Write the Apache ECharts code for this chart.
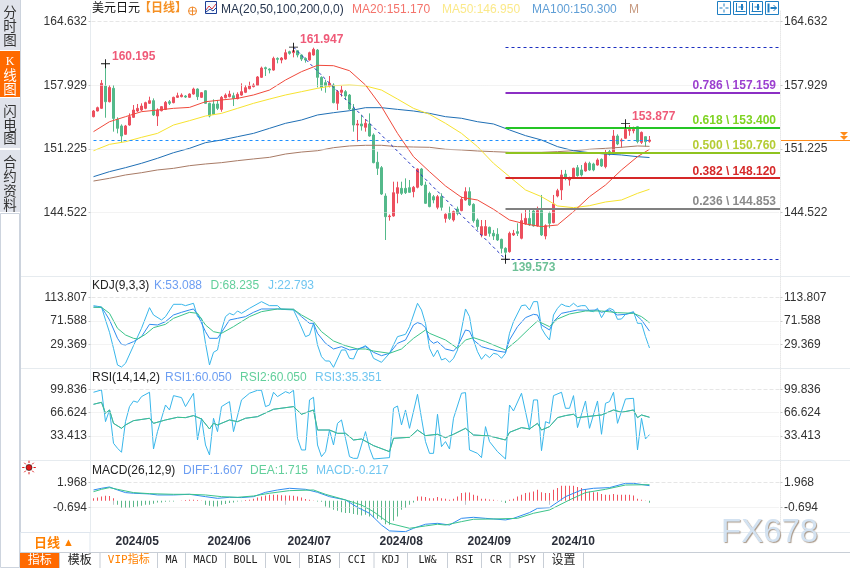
<!DOCTYPE html>
<html>
<head>
<meta charset="utf-8">
<style>
  html, body { margin: 0; padding: 0; background: #fff; }
  #main { width: 850px; height: 568px; }
</style>
<script src="https://cdn.jsdelivr.net/npm/echarts@6/dist/echarts.min.js"></script>
</head>
<body>
<div id="main"></div>
<script>
const opens = [
  154.61,155.21,155.49,157.85,156.19,157.60,154.33,153.63,152.75,153.73,
  154.54,155.21,155.31,155.49,156.02,156.30,154.68,155.24,155.38,156.19,
  156.09,156.65,156.72,156.79,156.65,157.00,157.53,156.65,157.35,156.02,
  155.95,155.95,155.38,156.61,156.72,156.82,156.51,156.89,157.18,157.56,
  157.78,157.91,158.76,159.78,159.64,159.53,160.76,160.59,160.69,161.47,
  161.36,161.57,161.12,160.76,160.59,161.12,161.64,158.76,158.20,157.85,
  157.95,156.02,157.18,157.25,156.89,155.49,153.73,153.84,153.49,153.84,
  152.68,149.80,149.23,146.24,144.06,144.13,146.52,147.05,147.05,147.12,
  146.70,147.16,149.09,147.40,146.52,146.17,145.05,146.17,143.88,144.41,
  143.71,144.87,144.70,145.82,146.70,145.36,143.71,142.13,142.09,142.94,
  142.30,142.20,141.67,140.72,140.37,142.13,142.48,141.78,143.29,143.88,
  144.66,143.08,144.70,142.02,144.41,143.43,146.24,146.88,148.56,147.93,
  148.10,149.23,148.99,148.88,149.69,149.62,149.51,150.11,149.34,150.92,
  150.85,152.57,152.04,152.33,153.13,153.13,153.56,151.90,152.50,152.01
]
const closes = [
  155.21,155.56,158.13,156.19,157.70,154.43,153.38,152.57,153.63,154.61,
  155.31,155.49,155.73,156.09,156.30,154.79,155.31,155.67,156.12,156.02,
  156.65,156.82,156.89,156.68,157.00,157.53,156.72,157.14,156.02,154.68,
  154.86,155.49,156.65,156.89,157.00,156.54,156.97,157.25,157.67,157.85,
  157.95,158.80,159.74,159.67,159.53,160.76,160.66,160.80,161.36,161.29,
  161.57,161.12,160.69,160.59,161.36,161.71,158.76,157.70,157.85,158.13,
  156.09,157.25,157.42,156.79,155.42,153.73,153.84,153.63,153.91,152.57,
  149.76,149.16,146.45,144.06,144.13,146.59,147.12,146.52,146.59,146.63,
  147.16,149.09,147.40,145.47,145.12,145.82,146.17,145.05,144.31,143.88,
  144.59,144.41,145.89,146.70,145.30,143.64,143.01,143.01,143.01,142.30,
  142.02,141.60,140.72,140.30,142.30,142.30,142.30,143.64,143.88,143.18,
  143.08,144.70,142.13,143.11,143.36,145.40,146.80,148.46,148.10,148.10,
  149.16,148.39,148.46,149.69,148.99,148.99,150.04,149.41,150.81,150.64,
  152.57,151.73,152.15,153.27,153.27,153.27,151.98,152.95,151.98,152.15
]
const lows = [
  154.54,155.17,155.45,154.50,156.12,153.03,152.85,151.87,152.70,153.66,
  154.47,155.10,155.20,155.40,155.95,154.68,153.63,155.17,155.31,155.84,
  156.02,156.58,156.65,156.58,156.58,156.93,156.37,156.58,155.95,154.54,
  154.79,155.31,155.13,156.54,156.65,155.74,156.44,156.82,157.10,157.50,
  157.70,157.85,158.70,158.90,159.18,159.46,160.24,160.24,160.62,161.15,
  160.87,160.87,160.48,160.31,160.52,161.05,157.70,157.35,157.14,157.70,
  156.02,155.31,156.72,156.37,155.31,153.03,151.98,153.14,153.03,152.50,
  149.69,148.46,146.35,141.60,143.64,144.06,145.47,146.35,146.45,146.59,
  146.10,147.05,147.30,145.40,145.05,145.47,144.84,144.70,143.43,143.71,
  143.54,144.20,144.63,145.75,145.19,143.43,142.66,141.88,142.02,141.95,
  141.60,141.50,140.19,139.573,140.26,142.02,142.02,141.67,143.22,143.08,
  143.01,143.01,142.02,141.67,142.84,143.36,146.10,145.82,147.90,147.33,
  148.03,148.28,148.30,148.81,148.90,148.85,149.44,149.30,149.16,150.50,
  150.78,151.60,151.34,152.26,152.60,152.85,151.80,151.73,151.45,151.87
]
const highs = [
  155.31,155.67,158.48,160.195,157.95,157.95,154.54,153.80,153.74,154.96,
  155.84,155.95,156.02,156.19,156.72,156.54,155.49,155.73,156.26,156.37,
  156.72,157.14,157.07,156.89,157.07,157.67,157.60,157.21,157.42,156.09,
  156.44,156.37,156.79,157.07,157.35,157.14,157.18,158.13,157.95,158.30,
  158.13,158.90,159.89,159.89,159.71,160.94,160.87,160.90,161.71,161.57,
  161.947,161.64,161.19,160.87,161.47,161.89,161.75,158.87,158.48,158.90,
  158.13,157.42,157.85,157.42,157.00,155.95,154.26,154.79,154.36,154.96,
  152.85,150.91,149.40,146.52,144.30,147.75,147.75,147.75,148.10,147.93,
  147.30,149.16,149.20,147.75,146.70,146.35,146.35,146.52,144.41,145.12,
  144.70,145.12,146.17,147.16,147.16,145.47,143.88,143.71,143.71,143.01,
  142.66,142.84,141.74,140.83,142.48,142.66,143.36,144.41,144.77,144.87,
  144.84,145.12,146.35,143.25,144.59,146.35,147.00,148.99,148.99,148.28,
  149.23,149.51,149.51,149.86,149.86,149.75,150.21,150.21,151.10,151.10,
  153.21,152.75,152.33,153.877,153.73,153.56,153.63,153.05,152.50,152.57
]

// moving averages were read every 4th candle
const maIdx = [0,4,8,12,16,20,24,28,32,36,40,44,48,52,56,60,64,68,72,76,80,84,88,92,96,100,104,108,112,116,120,124,128,132,136,139]
const ma20 = [153.03,154.08,154.61,155.14,155.31,155.49,155.59,156.19,156.37,156.54,156.90,157.42,158.48,159.36,160.03,159.99,159.46,157.95,155.67,152.85,150.39,148.81,147.30,146.10,145.82,144.84,143.71,143.29,143.01,143.18,144.59,146.17,147.40,148.99,150.39,151.17]
const ma50 = [151.02,151.69,151.97,152.43,152.85,153.73,154.19,154.68,154.96,155.49,156.02,156.47,156.90,157.25,157.60,157.88,157.95,157.85,157.42,156.47,155.49,154.86,153.91,152.85,151.45,149.69,148.28,146.88,146.17,145.19,145.01,145.22,145.61,145.82,146.52,146.95]
const ma100 = [148.28,148.81,149.23,149.69,150.22,150.81,151.27,151.87,152.15,152.50,152.85,153.38,153.91,154.26,154.79,155.03,155.24,155.56,155.56,155.38,155.21,154.96,154.61,154.44,154.08,153.84,153.21,152.61,152.15,151.45,151.02,150.81,150.67,150.57,150.39,150.30]
const ma200 = [147.82,148.11,148.46,148.70,148.99,149.16,149.44,149.62,149.76,149.97,150.15,150.32,150.67,150.88,151.02,151.34,151.52,151.59,151.59,151.45,151.41,151.38,151.17,151.10,150.99,150.92,150.85,150.85,150.85,150.92,151.02,151.17,151.27,151.38,151.52,151.48]

const kIdx = [0,2,3,4,6,7,8,10,12,14,16,18,20,22,24,25,26,28,29,31,32,34,36,38,40,42,46,50,52,54,55,56,58,60,62,64,66,68,70,72,74,76,78,80,81,82,83,84,85,86,88,90,91,93,94,95,97,99,101,103,104,106,108,110,111,112,114,115,117,119,121,124,126,127,129,131,133,135,137,139]
const kVals = [96.44,95.84,85.05,73.07,40.13,29.35,28.15,34.14,43.12,65.29,64.09,70.08,82.06,86.85,91.05,92.84,83.26,52.11,40.13,40.13,50.91,73.07,76.07,79.07,86.85,92.84,92.84,92.24,79.07,67.08,67.08,49.12,31.15,20.96,25.16,19.17,20.96,25.16,14.97,8.98,13.17,31.15,37.14,64.09,68.28,65.89,59.30,37.14,31.15,34.14,20.96,17.37,25.16,55.1,53.3,37.14,25.16,20.96,17.37,14.97,37.14,61.1,77.27,83.26,82.06,64.09,55.1,70.08,85.05,88.05,91.05,90.45,91.05,86.85,91.05,82.06,83.26,86.25,73.07,53.088]
const dIdx = [0,2,4,6,8,10,11,13,15,18,20,24,26,28,30,32,35,39,42,46,50,52,55,57,60,63,66,68,70,74,77,80,83,84,88,91,93,95,98,103,106,109,111,114,116,119,123,127,131,135,137,139]
const dVals = [95.84,95.84,85.05,58.1,46.12,40.13,38.93,47.32,59.3,65.29,76.07,86.85,85.05,64.09,52.11,49.12,61.1,79.07,88.05,92.84,92.24,82.06,70.08,52.11,35.34,26.95,20.96,20.96,17.37,13.17,20.96,40.13,55.1,49.12,37.14,22.16,37.14,41.33,34.14,19.17,37.14,58.1,71.28,61.1,74.87,83.86,89.25,89.25,86.25,85.05,79.07,68.235]
const jIdx = [0,1,2,3,4,5,6,7,8,10,12,14,15,17,18,20,22,23,25,26,27,28,29,30,31,32,33,34,35,36,37,39,42,44,46,47,50,51,53,54,55,56,57,58,59,60,62,63,64,65,66,68,69,70,72,74,76,78,79,81,82,83,84,85,86,87,88,89,90,91,93,94,95,96,97,98,99,100,101,102,103,104,105,107,108,109,110,111,112,113,114,115,116,117,118,119,120,121,122,123,124,125,126,127,128,129,130,131,132,133,135,136,137,138,139]
const jVals = [98.83,97.63,96.43,73.07,50.91,22.16,-7.79,-11.38,-4.80,26.95,58.10,95.24,82.06,73.07,79.07,101.23,101.23,98.83,103.03,79.07,76.07,31.15,-7.79,14.97,19.17,55.1,79.07,85.05,82.06,89.25,85.05,94.04,106.02,98.83,98.83,92.24,91.05,76.07,43.12,46.12,67.08,28.15,7.18,-0.60,-0.60,-11.98,19.17,19.17,4.19,3.0,19.17,26.95,20.96,4.19,-3.0,13.17,43.12,47.32,61.1,103.03,91.05,67.08,22.16,7.18,19.17,1.2,4.19,-3.0,4.19,19.17,92.84,79.07,37.14,16.17,2.39,11.38,5.39,13.17,11.38,4.19,13.17,49.1,70.08,98.83,100.03,91.05,106.02,106.02,58.1,46.12,37.14,82.06,94.04,101.83,98.23,97.03,103.03,97.03,98.83,98.83,89.25,88.05,94.04,77.27,89.25,94.04,91.05,74.27,74.87,83.26,88.05,67.08,67.08,43.12,22.793]

const rsi2Idx = [0,2,3,4,5,7,8,10,14,15,18,21,23,25,27,29,30,31,34,36,38,41,45,50,52,55,56,59,61,63,65,67,70,74,75,79,81,83,86,88,90,93,95,99,103,104,107,109,111,112,114,116,118,120,121,127,130,132,135,136,137,139]
const rsi2Vals = [78.5,81.3,65.7,70.4,51.4,44.3,49.1,55.2,58.6,51.4,56.2,60.0,59.5,62.4,57.6,43.4,51.4,49.1,56.2,53.8,58.6,60.9,71.4,75.2,64.3,70.4,41.9,41.9,37.2,37.2,27.7,29.1,19.7,11.1,30.1,31.5,41.9,33.9,35.8,31.0,35.8,44.3,34.8,33.4,27.7,38.6,45.3,43.4,51.4,41.9,46.7,59.5,62.4,64.3,59.5,63.3,70.4,67.1,70.4,59.5,63.3,60.05]
const rsi3Idx = [0,2,3,4,5,6,7,8,9,10,11,12,14,15,16,18,19,20,22,23,24,25,26,27,28,29,30,31,32,34,35,37,39,41,42,43,44,45,46,48,49,50,51,52,53,54,55,56,57,58,59,60,61,62,63,64,65,66,68,69,70,74,75,76,77,78,79,81,82,83,84,85,86,87,88,89,90,92,93,94,96,97,98,99,101,103,104,105,107,109,110,111,112,113,114,115,117,118,119,120,121,123,124,126,127,128,129,130,131,133,135,136,137,138,139]
const rsi3Vals = [95.6,98.9,53.8,70.4,23.0,15.9,10.2,53.8,75.2,83.2,81.3,89.4,95.6,14.9,39.6,77.5,70.4,90.8,88.0,75.2,84.7,94.2,27.7,58.6,20.6,6.4,58.6,39.6,75.2,82.3,39.6,84.7,94.2,98.4,98.4,75.2,77.5,95.6,89.4,96.5,94.2,98.4,30.1,13.5,13.5,84.7,88.5,20.6,4.0,11.1,41.9,20.6,51.4,56.2,30.1,4.0,1.6,1.6,39.6,15.9,0.7,2.6,72.8,76.1,49.1,70.4,44.3,92.7,58.6,25.4,8.7,8.7,64.3,18.2,25.4,14.9,58.6,94.2,95.1,13.5,8.7,2.6,46.7,25.4,11.1,0.7,77.5,69.0,94.2,41.9,84.7,84.7,12.5,53.8,51.4,90.8,95.6,72.8,72.8,90.8,45.3,83.2,44.3,83.2,35.8,79.9,82.3,95.6,51.4,86.1,87.0,13.5,58.6,29.2,35.351]

const diffIdx = [0,2,4,6,8,10,14,16,20,24,28,31,34,37,40,43,46,49,53,56,59,63,66,69,72,74,78,80,83,86,89,92,95,98,103,105,109,111,114,118,122,125,129,133,135,139]
const diffVals = [1.15,1.33,1.47,1.15,0.87,0.80,0.73,0.62,0.62,0.69,0.44,0.26,0.37,0.34,0.44,0.90,1.15,1.33,1.22,0.90,0.44,0.09,-0.70,-1.33,-2.58,-3.21,-3.29,-2.93,-2.50,-2.40,-2.58,-1.87,-1.76,-1.87,-2.04,-1.87,-1.26,-0.80,-0.73,0.44,1.15,1.33,1.40,1.86,1.86,1.607]
const deaIdx = [0,2,4,6,10,14,20,24,28,32,36,40,44,49,55,58,63,67,70,74,79,83,86,88,92,95,100,106,110,114,119,123,128,133,139]
const deaVals = [0.97,1.22,1.40,1.22,0.87,0.76,0.69,0.69,0.62,0.44,0.37,0.51,0.80,1.08,1.15,0.69,0.09,-0.45,-1.16,-2.40,-2.93,-2.68,-2.50,-2.58,-2.22,-1.97,-1.94,-1.87,-1.33,-0.98,0.09,0.87,1.22,1.68,1.715]
const macdBars = [
  .28,.35,.46,.53,.50,.28,-.43,-.78,-.78,-.78,
  -.67,-.60,-.53,-.43,-.43,-.32,-.18,-.18,-.11,-.07,
  -.07,0,.04,.07,.11,.11,.07,.04,-.43,-.53,
  -.60,-.60,-.43,-.35,-.25,-.18,-.07,-.04,.07,.11,
  .21,.35,.46,.57,.64,.64,.64,.60,.57,.57,
  .53,.46,.35,.18,.11,.04,-.07,-.11,-.60,-.78,
  -.96,-1.07,-1.21,-1.31,-1.31,-1.42,-1.49,-1.56,-1.49,-1.67,
  -1.78,-1.92,-2.02,-2.49,-2.56,-2.13,-1.67,-.96,-.78,-.43,
  -.18,.46,.46,.39,.28,.28,.39,.28,.21,.11,
  .21,.46,.82,.89,.89,.64,.53,.21,.21,.14,
  .11,.04,-.07,-.25,.11,.21,.46,.64,.82,.89,
  .99,1.17,.92,.82,.82,1.17,1.35,1.6,1.6,1.6,
  1.6,1.46,1.35,1.24,.99,.92,.92,.71,.64,.64,
  .71,.64,.64,.64,.64,.57,.21,.11,.04,-.217
]

const monthStarts = [5, 28, 48, 71, 93, 114]
const monthLabels = ['2024/05', '2024/06', '2024/07', '2024/08', '2024/09', '2024/10']
const priceTicks = [164.632, 157.929, 151.225, 144.522]
const kdjTicks = [113.807, 71.588, 29.369]
const rsiTicks = [99.836, 66.624, 33.413]
const macdTicks = [1.968, -0.694]

const fibRatios = ['0.786', '0.618', '0.500', '0.382', '0.236']
const fibValues = [157.159, 153.400, 150.760, 148.120, 144.853]
const fibLineColors = ['#8b2fc4', '#25c525', '#8fc31f', '#d62828', '#808080']
const fibTextColors = ['#9b3fd0', '#7ed321', '#b4cc34', '#d62828', '#8a8a8a']

const swingIdx = [3, 50, 133, 103]
const swingVals = [160.195, 161.947, 153.877, 139.573]
const lastPrice = 152.10

const SLOTS = 172
const LEFT = 91.5
const WIDTH = 688
const UI_FONT = '"Liberation Sans","Noto Sans CJK SC"'
const RED = '#ec4f5e'
const GREEN = '#54b98a'

const categories = Array.from({length: SLOTS}, (_, i) => {
  const m = monthStarts.indexOf(i)
  return m === -1 ? '' : monthLabels[m]
})
const isMonth = function (i) { return monthStarts.indexOf(i) !== -1 }

const panes = [
  {top: 10, height: 266, min: 137.80, max: 165.866, ticks: priceTicks},
  {top: 277, height: 91, min: -13.2, max: 150.3, ticks: kdjTicks},
  {top: 369, height: 91, min: -0.77, max: 128.7, ticks: rsiTicks},
  {top: 461, height: 71, min: -3.325, max: 4.236, ticks: macdTicks}
]

function pairs(idx, vals) {
  return idx.map(function (i, k) { return [i, vals[k]] })
}

function lineSeries(name, pane, idx, vals, color) {
  return {
    name: name, type: 'line', xAxisIndex: pane, yAxisIndex: pane * 2,
    data: pairs(idx, vals), showSymbol: false, silent: true,
    lineStyle: {color: color, width: 1}, z: 3
  }
}

function gridSeries(pane) {
  return {
    type: 'line', xAxisIndex: pane, yAxisIndex: pane * 2, data: [], silent: true, z: 1,
    markLine: {
      silent: true, symbol: 'none', animation: false, label: {show: false},
      data: panes[pane].ticks.map(function (v, i) {
        return {yAxis: v, lineStyle: {color: '#e6e6e6', width: 1, type: i === 0 ? 'dashed' : 'dotted'}}
      })
    }
  }
}

function yAxisFor(pane, position) {
  const p = panes[pane]
  const isLeft = position === 'left'
  return {
    type: 'value', gridIndex: pane, position: position, min: p.min, max: p.max,
    offset: 1, splitLine: {show: false},
    axisLine: {show: true, lineStyle: {color: isLeft ? '#e6ebef' : '#e8e8e8', type: isLeft ? 'solid' : 'dotted'}},
    axisTick: {show: true, length: 2, customValues: p.ticks, lineStyle: {color: '#c8c8c8'}},
    axisLabel: {
      customValues: p.ticks, margin: 3.5, color: '#333', fontSize: 12, fontFamily: UI_FONT,
      formatter: function (v) { return v.toFixed(3) }
    }
  }
}

function fibLine(i) {
  const v = fibValues[i]
  return [{
    coord: [103, v],
    lineStyle: {color: fibLineColors[i], width: 2, type: 'solid'},
    label: {
      show: true, position: 'insideEndTop', distance: 1, padding: [0, 3, 0, 0],
      formatter: fibRatios[i] + ' \\ ' + v.toFixed(3),
      color: fibTextColors[i], fontSize: 12, fontWeight: 'bold', fontFamily: UI_FONT
    }
  }, {coord: [171, v], x: 780}]
}

function dashedFrom(fromIdx, fromVal, toIdx, toVal, color, endX) {
  const end = {coord: [toIdx, toVal]}
  if (endX) end.x = endX
  return [{
    coord: [fromIdx, fromVal],
    lineStyle: {color: color, width: 1, type: [3, 3]},
    label: {show: false}
  }, end]
}

const crossPath = 'path://M4.5 0H5.5V4.5H10V5.5H5.5V10H4.5V5.5H0V4.5H4.5Z'
const swingColors = ['#ef5a78', '#ef5a78', '#ef5a78', '#6cc096']
const swingOffsets = [[1, -7], [1, -7], [1, -7], [1, 8]]

const series = [
  gridSeries(0), gridSeries(1), gridSeries(2), gridSeries(3),
  {
    name: 'USDJPY', type: 'candlestick', xAxisIndex: 0, yAxisIndex: 0, z: 2, silent: true,
    barWidth: 2,
    data: opens.map(function (o, i) { return [o, closes[i], lows[i], highs[i]] }),
    itemStyle: {color: RED, color0: GREEN, borderColor: RED, borderColor0: GREEN, borderWidth: 1},
    markLine: {
      silent: true, symbol: 'none', animation: false,
      data: [
        dashedFrom(103, swingVals[1], 171, swingVals[1], '#1c2fc0', 780),
        dashedFrom(103, swingVals[3], 171, swingVals[3], '#1c2fc0', 780),
        dashedFrom(50, swingVals[1], 103, swingVals[3], '#1c2fc0'),
        dashedFrom(0, lastPrice, 139, lastPrice, '#1e90ff')
      ].concat(fibValues.map(function (v, i) { return fibLine(i) }))
    },
    markPoint: {
      silent: true, animation: false, symbol: crossPath, symbolSize: 9,
      itemStyle: {color: '#111'},
      data: swingIdx.map(function (x, i) {
        return {
          coord: [x, swingVals[i]],
          label: {
            show: true, position: 'right', distance: 1, offset: swingOffsets[i],
            formatter: swingVals[i].toFixed(3), color: swingColors[i],
            fontSize: 12, fontWeight: 'bold', fontFamily: UI_FONT
          }
        }
      })
    }
  },
  lineSeries('MA200', 0, maIdx, ma200, '#a87b66'),
  lineSeries('MA100', 0, maIdx, ma100, '#1f6fb5'),
  lineSeries('MA50', 0, maIdx, ma50, '#f7e330'),
  lineSeries('MA20', 0, maIdx, ma20, '#f04a3c'),
  lineSeries('J', 1, jIdx, jVals, '#38b6ea'),
  lineSeries('K', 1, kIdx, kVals, '#2f8cf0'),
  lineSeries('D', 1, dIdx, dVals, '#3cc48a'),
  lineSeries('RSI3', 2, rsi3Idx, rsi3Vals, '#38b6ea'),
  lineSeries('RSI1', 2, rsi2Idx, rsi2Vals, '#5a9cf0'),
  lineSeries('RSI2', 2, rsi2Idx, rsi2Vals, '#3cc48a'),
  {
    name: 'MACD', type: 'bar', xAxisIndex: 3, yAxisIndex: 6, barWidth: 1, silent: true, z: 2,
    data: macdBars,
    itemStyle: {color: function (p) { return p.value >= 0 ? '#f0525f' : '#5cb88a' }}
  },
  lineSeries('DIFF', 3, diffIdx, diffVals, '#2f8cf0'),
  lineSeries('DEA', 3, deaIdx, deaVals, '#3cc48a')
]

// everything around the plot: tabs, titles, buttons
function txt(x, y, text, fill, font, align) {
  return {
    type: 'text', silent: true, z: 20,
    style: {x: x, y: y, text: text, fill: fill, font: font || '12px ' + UI_FONT, textAlign: align || 'left', textVerticalAlign: 'middle'}
  }
}
function box(x, y, w, h, fill, stroke) {
  return {type: 'rect', silent: true, z: 10, shape: {x: x, y: y, width: w, height: h}, style: {fill: fill || 'none', stroke: stroke || 'none', lineWidth: 1}}
}
function seg(x1, y1, x2, y2, color, w) {
  return {type: 'line', silent: true, z: 10, shape: {x1: x1, y1: y1, x2: x2, y2: y2}, style: {stroke: color, lineWidth: w || 1}}
}

const g = []
// left tabs
g.push(box(0, 0, 20, 50, '#e0e3eb'), box(0, 51, 20, 46, '#ff6a00'), box(0, 98, 20, 50, '#e0e3eb'), box(0, 150, 20, 62, '#e0e3eb'))
g.push(box(0.5, 213.5, 19, 354, '#fff', '#cdd4de'))
const tabFont = '13.5px ' + UI_FONT
;[['分', 13], ['时', 27], ['图', 41], ['闪', 112], ['电', 126], ['图', 139], ['合', 163], ['约', 177], ['资', 192], ['料', 206]].forEach(function (c) {
  g.push(txt(10, c[1], c[0], '#333', tabFont, 'center'))
})
;[['K', 62], ['线', 76], ['图', 90]].forEach(function (c) {
  g.push(txt(10, c[1], c[0], '#fff', c[0] === 'K' ? '12px "Liberation Serif"' : tabFont, 'center'))
})

// pane dividers
;[276.5, 368.5, 460.5, 532.5].forEach(function (y) { g.push(seg(20, y, 850, y, '#e6ebef')) })
g.push(seg(20.5, 0, 20.5, 568, '#ccd3dd'))

// price pane heading
g.push(txt(92, 9, '美元日元', '#111'))
g.push(txt(139, 9, '【日线】', '#f59023', 'bold 12px ' + UI_FONT))
g.push({type: 'circle', silent: true, z: 10, shape: {cx: 192.5, cy: 11, r: 4}, style: {fill: 'none', stroke: '#f08a2c'}})
g.push(seg(188.5, 11, 196.5, 11, '#f08a2c'), seg(192.5, 7, 192.5, 15, '#f08a2c'))
g.push(box(205.5, 1.5, 11, 12, '#f4f8ff', '#1c3f94'))
g.push({type: 'polyline', silent: true, z: 11, shape: {points: [[206, 10], [209, 6], [212, 9], [216, 4]]}, style: {fill: 'none', stroke: '#d8383c'}})
g.push({type: 'polyline', silent: true, z: 11, shape: {points: [[206, 12], [210, 9], [213, 11], [216, 8]]}, style: {fill: 'none', stroke: '#1c3f94'}})
const headFont = '12px ' + UI_FONT
g.push(txt(221, 9.5, 'MA(20,50,100,200,0,0)', '#26364f', headFont))
g.push(txt(352, 9.5, 'MA20:151.170', '#f4736b', headFont))
g.push(txt(442, 9.5, 'MA50:146.950', '#fbe98a', headFont))
g.push(txt(532, 9.5, 'MA100:150.300', '#5f9ed6', headFont))
g.push(txt(629, 9.5, 'M', '#c79a80', headFont))

// top right buttons
;[717.5, 733.5, 749.5, 765.5].forEach(function (x, i) {
  g.push(box(x, 1.5, 13, 13, '#fff', '#1f7ec2'))
  const cx = x + 6.5
  if (i === 0) {
    g.push(seg(cx, 3.5, cx, 6.5, '#1f7ec2'), seg(cx, 9.5, cx, 12.5, '#1f7ec2'), seg(x + 2, 8, x + 5, 8, '#1f7ec2'), seg(x + 8, 8, x + 11, 8, '#1f7ec2'))
  } else if (i === 3) {
    g.push(seg(x + 3, 3.5, x + 3, 12.5, '#1f7ec2', 2), seg(x + 5, 8, x + 11, 8, '#1f7ec2', 2), seg(x + 8, 5, x + 11, 8, '#1f7ec2'), seg(x + 8, 11, x + 11, 8, '#1f7ec2'))
  } else {
    g.push(seg(x + 3, 3, x + 3, 12, '#1f7ec2'), seg(x + 2, 11.5, x + 12, 11.5, '#1f7ec2'), seg(cx + 2, 4, cx + 2, 10, '#1f7ec2', 2), seg(x + 5, 7, x + 10, 7, '#1f7ec2'))
  }
})

// current price marker in the right scale
g.push(seg(781, 140.5, 850, 140.5, '#ff8c1a'))
;[132, 136].forEach(function (y) {
  g.push({type: 'polygon', silent: true, z: 11, shape: {points: [[840, y], [848, y], [844, y + 4]]}, style: {fill: '#ff8c1a'}})
})

// indicator headings
g.push(txt(92, 285.5, 'KDJ(9,3,3)', '#222', headFont))
g.push(txt(154, 285.5, 'K:53.088', '#6d9ef2', headFont))
g.push(txt(210.5, 285.5, 'D:68.235', '#62cf9b', headFont))
g.push(txt(268, 285.5, 'J:22.793', '#70c6f0', headFont))
g.push(txt(92, 377.5, 'RSI(14,14,2)', '#222', headFont))
g.push(txt(165, 377.5, 'RSI1:60.050', '#6d9ef2', headFont))
g.push(txt(240, 377.5, 'RSI2:60.050', '#62cf9b', headFont))
g.push(txt(315, 377.5, 'RSI3:35.351', '#70c6f0', headFont))
g.push(txt(92, 470.5, 'MACD(26,12,9)', '#222', headFont))
g.push(txt(183, 470.5, 'DIFF:1.607', '#6d9ef2', headFont))
g.push(txt(250, 470.5, 'DEA:1.715', '#62cf9b', headFont))
g.push(txt(316, 470.5, 'MACD:-0.217', '#70c6f0', headFont))

// red sun
g.push({type: 'circle', silent: true, z: 11, shape: {cx: 29, cy: 467.5, r: 3}, style: {fill: '#e01818', stroke: '#111', lineWidth: 0.6}})
;[[1, 0], [-1, 0], [0, 1], [0, -1], [.7, .7], [-.7, .7], [.7, -.7], [-.7, -.7]].forEach(function (d) {
  g.push(seg(29 + d[0] * 4.5, 467.5 + d[1] * 4.5, 29 + d[0] * 6.8, 467.5 + d[1] * 6.8, '#e01818'))
})

// period button and tab bar
g.push(box(20.5, 532.5, 69.5, 20, '#fff', '#dfe6ee'))
g.push(txt(34, 543, '日线', '#ff8000', 'bold 13px ' + UI_FONT))
g.push(txt(68.5, 543, '▲', '#ff8000', '11px ' + UI_FONT, 'center'))
g.push(seg(20, 552.5, 850, 552.5, '#c8ced6'))
g.push(box(20, 553, 39.5, 15, '#ff6a00'))
const tabs = ['指标', '模板', 'VIP指标', 'MA', 'MACD', 'BOLL', 'VOL', 'BIAS', 'CCI', 'KDJ', 'LW&', 'RSI', 'CR', 'PSY', '设置']
const tabEdges = [20, 59.5, 100, 157.5, 185.5, 225.5, 265.5, 299.5, 339.5, 374, 407.5, 447.5, 481.5, 510, 543.5, 583.5]
const monoFont = '10px "DejaVu Sans Mono","Noto Sans CJK SC"'
tabs.forEach(function (name, i) {
  const latin = /^[A-Z&]+$/.test(name)
  const color = i === 0 ? '#fff' : i === 2 ? '#ff8000' : '#222'
  g.push(txt((tabEdges[i] + tabEdges[i + 1]) / 2, 560.5, name, color, latin || i === 2 ? monoFont.replace('10px', latin ? '10px' : '11px') : '12px ' + UI_FONT, 'center'))
  g.push(seg(tabEdges[i + 1], 553, tabEdges[i + 1], 568, '#c8ced6'))
})

// watermark
g.push({
  type: 'text', silent: true, z: 30,
  style: {
    x: 721, y: 532.5, text: 'FX678', textVerticalAlign: 'middle',
    fill: '#d3e2f1', font: '33px "Liberation Sans"',
    textShadowColor: '#a89888', textShadowBlur: 1, textShadowOffsetX: 1, textShadowOffsetY: 1
  }
})

const xAxis = panes.map(function (p, i) {
  const last = i === panes.length - 1
  return {
    type: 'category', gridIndex: i, data: categories, boundaryGap: true,
    axisLine: {show: false},
    axisTick: {show: last, alignWithLabel: true, length: 4, interval: function (idx) { return isMonth(idx) }, lineStyle: {color: '#bfc5cc'}},
    axisLabel: {
      show: last, interval: function (idx) { return isMonth(idx) }, align: 'left', margin: 4,
      padding: [0, 0, 0, 2], color: '#2b2f3a', fontSize: 12, fontWeight: 'bold', fontFamily: UI_FONT
    },
    splitLine: {show: false}
  }
})

const yAxis = []
panes.forEach(function (p, i) {
  yAxis.push(yAxisFor(i, 'left'), yAxisFor(i, 'right'))
})

const chart = echarts.init(document.getElementById('main'))
chart.setOption({
  animation: false,
  backgroundColor: '#fff',
  textStyle: {fontFamily: UI_FONT},
  grid: panes.map(function (p) { return {left: LEFT, width: WIDTH, top: p.top, height: p.height} }),
  xAxis: xAxis,
  yAxis: yAxis,
  series: series,
  graphic: g
})
</script>
</body>
</html>
